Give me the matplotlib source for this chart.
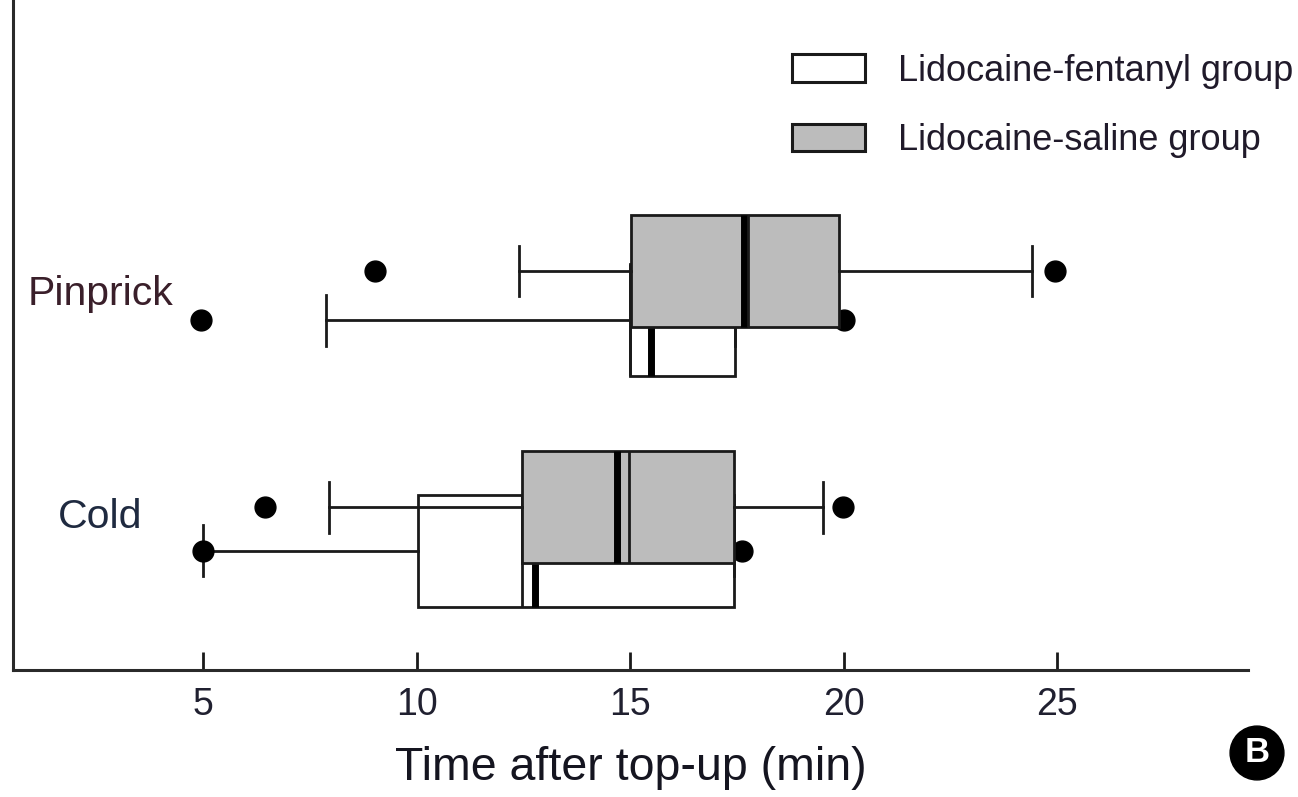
import matplotlib
matplotlib.use("Agg")
import matplotlib.pyplot as plt
from matplotlib.patches import Rectangle

plt.rcParams['font.family'] = ['Liberation Sans', 'DejaVu Sans']

# sensory tests (rows) and the two study groups
categories = ["Pinprick", "Cold"]
groups = ["Lidocaine-fentanyl group", "Lidocaine-saline group"]

# box summaries, minutes after top-up; order follows categories
fent_q1 = [15.0, 10.03]
fent_med = [15.49, 12.78]
fent_q3 = [17.46, 17.44]
fent_mean = [15.0, 12.47]
fent_lo = [7.88, 5.0]
fent_hi = [17.46, 17.44]
fent_out = [[4.95, 20.0], [5.0, 17.62]]

sal_q1 = [15.02, 12.47]
sal_med = [17.67, 14.70]
sal_q3 = [19.9, 17.44]
sal_mean = [17.75, 14.98]
sal_lo = [12.4, 7.95]
sal_hi = [24.41, 19.52]
sal_out = [[9.03, 24.95], [6.45, 19.99]]

xticks = [5, 10, 15, 20, 25]

W, H = 1298, 797
fig = plt.figure(figsize=(W / 100, H / 100), dpi=100)
ax = fig.add_axes([13 / W, 1 - 670 / H, (1248 - 13) / W, 670 / H])

# vertical slots of the boxes within each row
fent_pos = [1.88, 0.906]
sal_pos = [2.087, 1.091]


def make_stats(q1, med, q3, mean, lo, hi, out):
    stats = []
    for i in range(len(q1)):
        stats.append(dict(q1=q1[i], med=med[i], q3=q3[i], mean=mean[i],
                          whislo=lo[i], whishi=hi[i], fliers=out[i]))
    return stats


def draw_group(stats, pos, face, z):
    line = dict(color='#1a1a1a', linewidth=2)
    ax.bxp(stats, positions=pos, widths=0.47, capwidths=0.215,
           orientation='horizontal', patch_artist=True, showmeans=True,
           meanline=True, manage_ticks=False, zorder=z,
           boxprops=dict(facecolor=face, edgecolor='#1a1a1a', linewidth=2),
           whiskerprops=line, capprops=line,
           medianprops=dict(color='black', linewidth=5, solid_capstyle='butt'),
           meanprops=dict(color='#1a1a1a', linewidth=2, linestyle='-'),
           flierprops=dict(marker='o', markersize=15, markerfacecolor='black',
                           markeredgecolor='black', linestyle='none'))


draw_group(make_stats(fent_q1, fent_med, fent_q3, fent_mean, fent_lo, fent_hi, fent_out),
           fent_pos, 'white', 2)
draw_group(make_stats(sal_q1, sal_med, sal_q3, sal_mean, sal_lo, sal_hi, sal_out),
           sal_pos, '#bcbcbc', 3)

ax.set_xlim(0.55, 29.47)
ax.set_ylim(0.404, 3.23)
ax.set_xticks(xticks)
ax.set_yticks([])
ax.tick_params(axis='x', direction='in', length=13, width=2, color='#1a1a1a',
               labelsize=27, pad=12, labelcolor='#202030')
for s in ['top', 'right']:
    ax.spines[s].set_visible(False)
for s in ['left', 'bottom']:
    ax.spines[s].set_linewidth(2.2)
    ax.spines[s].set_color('#2a2a2a')
ax.set_xlabel("Time after top-up (min)", fontsize=33.5, labelpad=17, color='#151520')

# row labels left of the boxes
label_y = [1.945, 1.005]
label_colors = ['#3a1f2a', '#1f2a40']
for name, y, c in zip(categories, label_y, label_colors):
    ax.text(2.59, y, name, fontsize=29.5, ha='center', va='baseline', color=c)

# legend swatches
def fx(px):
    return px / W


def fy(py):
    return 1 - py / H


swatches = [('white', 54, 82, 81), ('#bcbcbc', 124, 151, 150)]
for (face, top, bot, base), name in zip(swatches, groups):
    fig.add_artist(Rectangle((fx(792), fy(bot)), fx(865) - fx(792), (bot - top) / H,
                             transform=fig.transFigure, facecolor=face,
                             edgecolor='#1a1a1a', linewidth=2.2))
    fig.text(fx(898), fy(base), name, fontsize=26, va='baseline', color='#201a2a')

# panel badge
fig.text(fx(1257), fy(753), "B", fontsize=25, fontweight='bold', color='white',
         ha='center', va='center',
         bbox=dict(boxstyle='circle,pad=0.3', facecolor='black', edgecolor='black'))

fig.savefig("out.png", dpi=100)
